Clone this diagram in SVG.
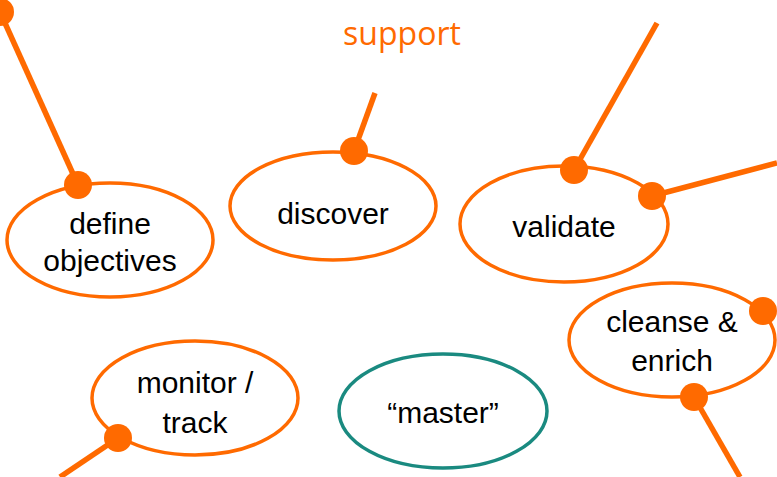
<svg xmlns="http://www.w3.org/2000/svg" width="777" height="477" viewBox="0 0 777 477">
<style>
.n{fill:#fff;stroke:#ff6a00;stroke-width:3.5}
.m{fill:#fff;stroke:#1a8a80;stroke-width:3.5}
.t{font-family:"Liberation Sans",Arial,sans-serif;font-size:30px;fill:#000;text-anchor:middle}
.c line{stroke:#ff6a00;stroke-width:5.5}
.c circle{fill:#ff6a00}
.o{font-family:"Open Sans","Liberation Sans",sans-serif;font-size:32px;fill:#ff6a00;text-anchor:middle}
</style>
<rect width="777" height="477" fill="#fff"/>
<text class="o" x="402" y="45">support</text>
<g class="c" id="connectors">
<line x1="0" y1="12" x2="78" y2="185"/>
<line x1="375" y1="93" x2="354" y2="151"/>
<line x1="657" y1="23" x2="574" y2="170"/>
<line x1="652" y1="196" x2="777" y2="163"/>
<line x1="694" y1="397" x2="740" y2="477"/>
<line x1="118" y1="438" x2="60" y2="477"/>
</g>
<g id="define"><ellipse class="n" cx="110" cy="240" rx="103" ry="57"/><text class="t" x="110" y="234">define</text><text class="t" x="110" y="271">objectives</text></g>
<g id="discover"><ellipse class="n" cx="333" cy="206" rx="103" ry="54"/><text class="t" x="333" y="224">discover</text></g>
<g id="validate"><ellipse class="n" cx="564" cy="224" rx="104" ry="58"/><text class="t" x="564" y="237">validate</text></g>
<g id="cleanse"><ellipse class="n" cx="672" cy="340" rx="103" ry="57"/><text class="t" x="672" y="332">cleanse &amp;</text><text class="t" x="672" y="371">enrich</text></g>
<g id="monitor"><ellipse class="n" cx="195" cy="398" rx="103" ry="57"/><text class="t" x="195" y="393">monitor /</text><text class="t" x="195" y="433">track</text></g>
<g id="master"><ellipse class="m" cx="443" cy="411" rx="104" ry="57"/><text class="t" x="443" y="423">“master”</text></g>
<g class="c" id="dots">
<circle cx="0" cy="12" r="14"/>
<circle cx="78" cy="185" r="14"/>
<circle cx="354" cy="151" r="14"/>
<circle cx="574" cy="170" r="14"/>
<circle cx="652" cy="196" r="14"/>
<circle cx="763" cy="311" r="14"/>
<circle cx="694" cy="397" r="14"/>
<circle cx="118" cy="438" r="14"/>
</g>
</svg>
